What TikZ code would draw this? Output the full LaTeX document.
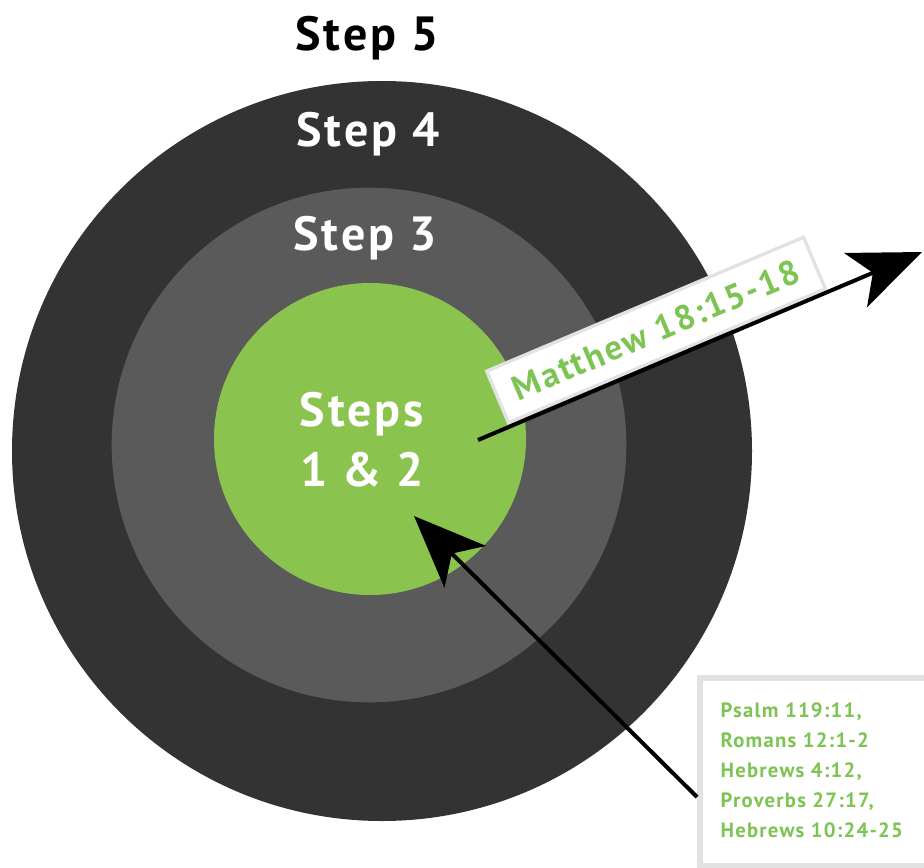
\documentclass[tikz,border=0pt]{standalone}
\usepackage{fontspec}
\setmainfont{PT Sans}[LetterSpace=6]
\usetikzlibrary{arrows.meta}

\definecolor{ringdark}{HTML}{333333}
\definecolor{ringmid}{HTML}{5A5A5A}
\definecolor{coregreen}{HTML}{8BC34F}
\definecolor{textgreen}{HTML}{7DC453}
\definecolor{boxgray}{HTML}{E2E2E2}

\tikzset{
    ring/.style={circle, inner sep=0pt},
    steplabel/.style={font=\fontsize{36}{45}\selectfont\bfseries, align=center},
    bigarrow/.style={line width=3pt, -{Stealth[length=54pt, width=44pt, inset=14pt]}}
}

\begin{document}
\begin{tikzpicture}[x=0.75pt, y=-0.75pt]
    \useasboundingbox[fill=white] (0, 0) rectangle (924, 867);

    \node[ring, fill=ringdark, minimum size=555pt] (outer) at (382, 451) {};
    \node[ring, fill=ringmid, minimum size=386pt] (middle) at (369, 445) {};
    \node[ring, fill=coregreen, minimum size=234pt] (core) at (370, 439) {};

    \node[steplabel] (s5) at (367, 38) {Step 5};
    \node[steplabel, white] (s4) at (368, 134) {Step 4};
    \node[steplabel, white] (s3) at (365, 238) {Step 3};
    \node[steplabel, white] (s12) at (362, 440) {Steps\\1 \& 2};

    % label box along the outgoing arrow
    \node[draw=boxgray, line width=2.5pt, fill=white, rotate=22.9,
          minimum width=258pt, minimum height=42pt, text=textgreen,
          font=\fontsize{26}{34}\selectfont\bfseries] (matt) at (656, 330) {Matthew 18:15-18};
    \coordinate (out) at (478, 440);
    \coordinate (outtip) at (922, 252);
    \draw[bigarrow] (out) -- (outtip);

    % verse list
    \node[draw=boxgray, line width=4.5pt, fill=white, anchor=north west,
          minimum width=190pt, minimum height=141pt, inner sep=0pt] (verses) at (697, 675) {};
    \node[anchor=north west, text=textgreen, align=left,
          font=\fontsize{15.5}{22.5}\selectfont\bfseries] (vtext) at (716, 698)
          {Psalm 119:11,\\Romans 12:1-2\\Hebrews 4:12,\\Proverbs 27:17,\\Hebrews 10:24-25};
    \coordinate (intip) at (414, 516);
    \draw[bigarrow] (verses.west |- 0, 797) -- (intip);

\end{tikzpicture}
\end{document}
